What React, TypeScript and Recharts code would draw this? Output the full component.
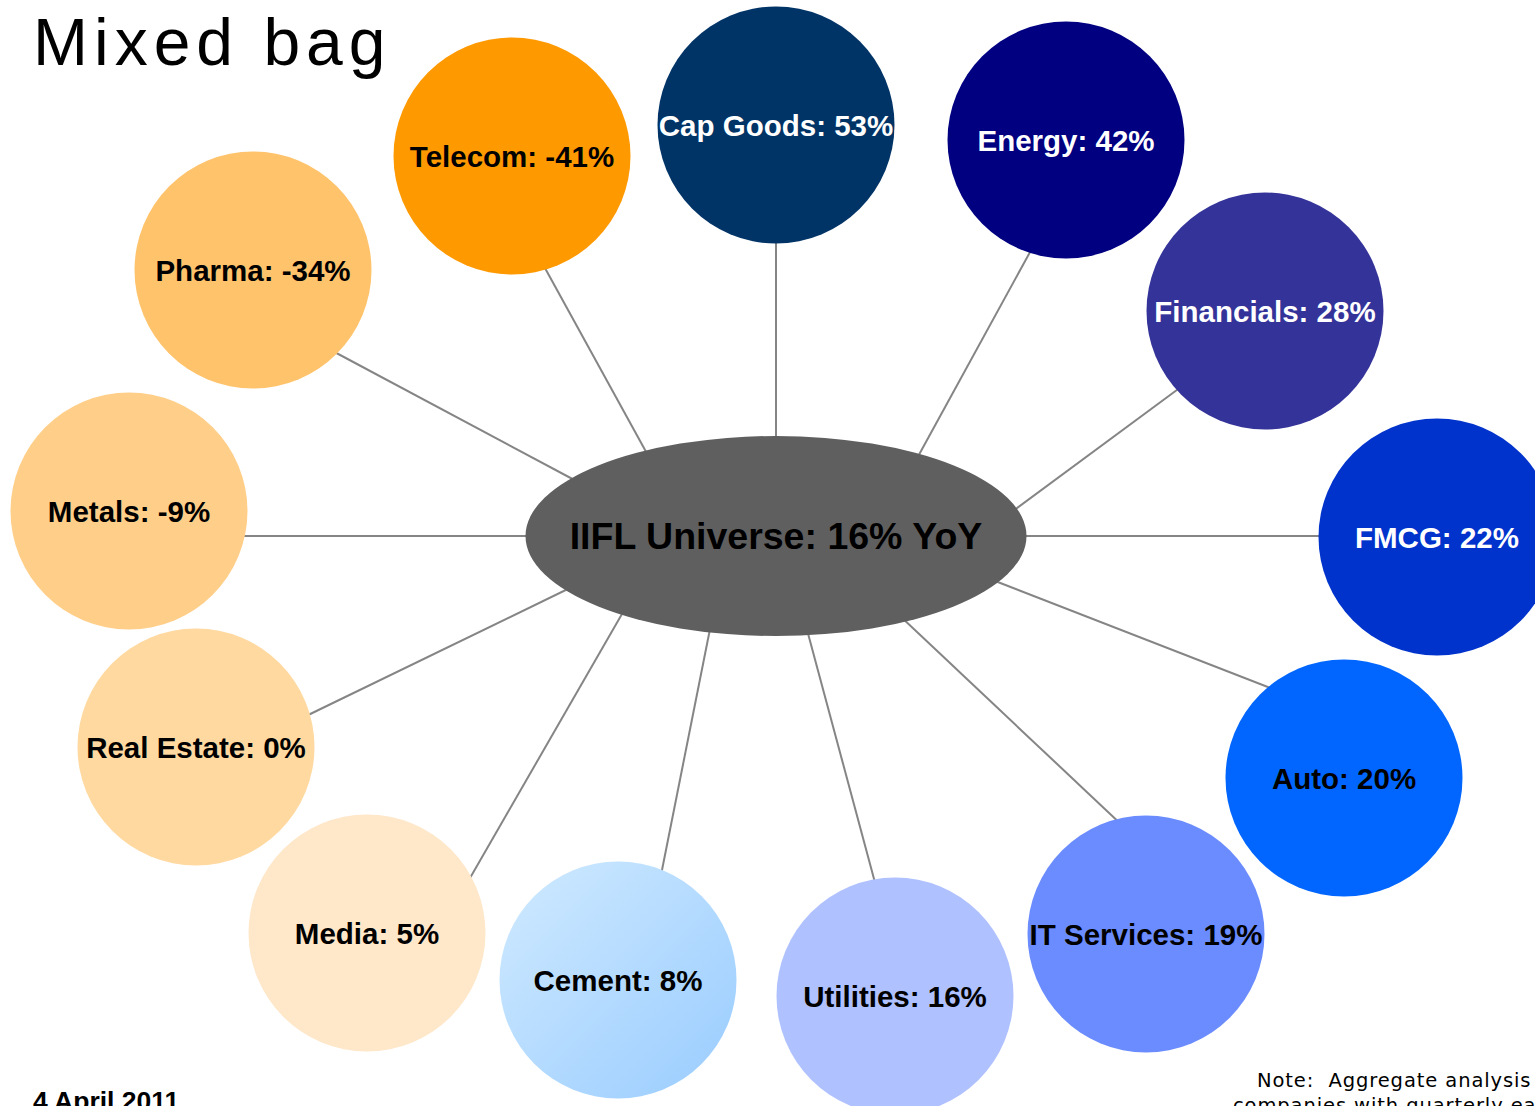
import React from "react";
import { ScatterChart, Scatter, XAxis, YAxis } from "recharts";

const W = 1535;
const H = 1106;
const R = 118.5;
const FONT = '"Liberation Sans", Arial, sans-serif';

// ─── Data ─────────────────────────────────────────────────────────────────────

const sectors = [
  "Telecom",
  "Cap Goods",
  "Energy",
  "Financials",
  "FMCG",
  "Auto",
  "IT Services",
  "Utilities",
  "Cement",
  "Media",
  "Real Estate",
  "Metals",
  "Pharma",
];
const growth = [-41, 53, 42, 28, 22, 20, 19, 16, 8, 5, 0, -9, -34];
const universeLabel = "IIFL Universe";
const universeGrowth = 16;

// ─── Layout (chart units = slide pixels) ──────────────────────────────────────

const bubbleX = [512, 776, 1066, 1265, 1437, 1344, 1146, 895, 618, 367, 196, 129, 253];
const bubbleY = [156, 125, 140, 311, 537, 778, 934, 996, 980, 933, 747, 511, 270];
const hubX = 776;
const hubY = 536;

// connector ends: hub side / bubble side
const linkFromX = [650, 776, 915, 1009, 1016, 990, 899, 806, 711, 626, 574, 536, 580];
const linkFromY = [459, 446, 462, 514, 536, 579, 615, 626, 624, 607, 586, 536, 483];
const linkToX = [540, 776, 1035, 1185, 1330, 1278, 1125, 877, 660, 466, 302, 236, 327];
const linkToY = [259, 230, 243, 384, 536, 691, 828, 890, 880, 885, 718, 536, 348];

// ─── Styles ───────────────────────────────────────────────────────────────────

const fills = [
  "#FF9900",
  "#003366",
  "#000080",
  "#333399",
  "#0033CC",
  "#0066FF",
  "#6B8CFF",
  "#AFC1FF",
  "url(#cementGrad)",
  "#FFE7C9",
  "#FFD9A0",
  "#FFCF8A",
  "#FFC36C",
];
const textColors = [
  "#000", "#fff", "#fff", "#fff", "#fff", "#000", "#000",
  "#000", "#000", "#000", "#000", "#000", "#000",
];

const bubbles = sectors.map((name, i) => ({
  x: bubbleX[i],
  y: bubbleY[i],
  name,
  value: growth[i],
  fill: fills[i],
  color: textColors[i],
}));

const hub = [{ x: hubX, y: hubY, name: universeLabel, value: universeGrowth }];

const links = sectors.map((_, i) => [
  { x: linkFromX[i], y: linkFromY[i] },
  { x: linkToX[i], y: linkToY[i] },
]);

// ─── Shapes ───────────────────────────────────────────────────────────────────

function Bubble(props: any) {
  const { cx, cy, payload } = props;
  return (
    <g>
      {payload.fill.startsWith("url") && (
        <defs>
          <linearGradient id="cementGrad" x1="0" y1="0" x2="1" y2="1">
            <stop offset="0%" stopColor="#D0EAFF" />
            <stop offset="100%" stopColor="#99CCFF" />
          </linearGradient>
        </defs>
      )}
      <circle cx={cx} cy={cy} r={R} fill={payload.fill} />
      <text
        x={cx}
        y={cy}
        textAnchor="middle"
        dominantBaseline="central"
        fontFamily={FONT}
        fontWeight="bold"
        fontSize={29.5}
        fill={payload.color}
      >
        {`${payload.name}: ${payload.value}%`}
      </text>
    </g>
  );
}

function Hub(props: any) {
  const { cx, cy, payload } = props;
  return (
    <g>
      <ellipse cx={cx} cy={cy} rx={250.5} ry={100} fill="#5F5F5F" />
      <text
        x={cx}
        y={cy}
        textAnchor="middle"
        dominantBaseline="central"
        fontFamily={FONT}
        fontWeight="bold"
        fontSize={37.5}
        fill="#000"
      >
        {`${payload.name}: ${payload.value}% YoY`}
      </text>
    </g>
  );
}

const NoDot = () => <g />;

// ─── App ──────────────────────────────────────────────────────────────────────

export default function App() {
  return (
    <div
      style={{
        position: "absolute",
        left: 0,
        top: 0,
        width: W,
        height: H,
        overflow: "hidden",
        background: "#fff",
      }}
    >
      <ScatterChart width={W} height={H} margin={{ top: 0, right: 0, bottom: 0, left: 0 }}>
        <XAxis type="number" dataKey="x" domain={[0, W]} hide />
        <YAxis type="number" dataKey="y" domain={[0, H]} reversed hide />
        {links.map((pts, i) => (
          <Scatter
            key={sectors[i]}
            data={pts}
            line={{ stroke: "#858585", strokeWidth: 2 }}
            shape={NoDot}
            isAnimationActive={false}
          />
        ))}
        <Scatter data={hub} shape={Hub} isAnimationActive={false} />
        <Scatter data={bubbles} shape={Bubble} isAnimationActive={false} />
      </ScatterChart>

      <svg
        width={W}
        height={H}
        style={{ position: "absolute", left: 0, top: 0, pointerEvents: "none" }}
      >
        <text x={33} y={65} fontFamily={FONT} fontSize={66} letterSpacing={6} fill="#000">
          Mixed bag
        </text>
        <text x={33} y={1110} fontFamily={FONT} fontWeight="bold" fontSize={26.5} fill="#000">
          4 April 2011
        </text>
        <text
          x={1257}
          y={1087}
          fontFamily='"DejaVu Sans", Verdana, sans-serif'
          fontSize={19.5}
          letterSpacing={0.9}
          fill="#000"
          style={{ whiteSpace: "pre" }}
        >
          Note:  Aggregate analysis of companies
        </text>
        <text
          x={1233}
          y={1112}
          fontFamily='"DejaVu Sans", Verdana, sans-serif'
          fontSize={19.5}
          letterSpacing={0.9}
          fill="#000"
          style={{ whiteSpace: "pre" }}
        >
          companies with quarterly earnings
        </text>
      </svg>
    </div>
  );
}
